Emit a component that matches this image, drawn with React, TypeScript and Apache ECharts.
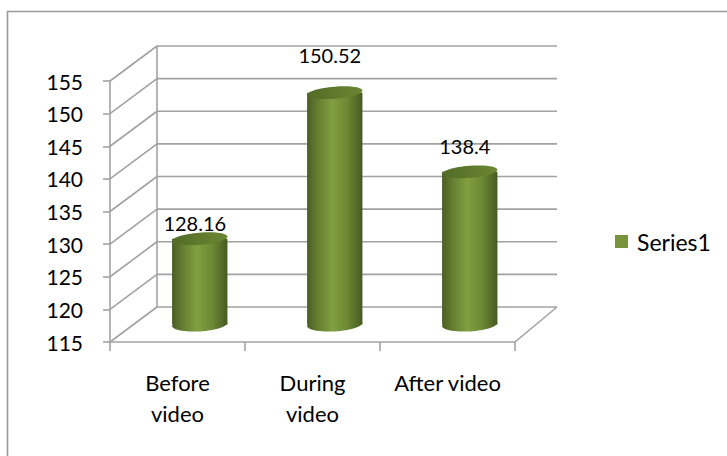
import React, { useEffect, useRef } from "react";
import * as echarts from "echarts";

// Chart data
const categories = ["Before video", "During video", "After video"];
const values = [128.16, 150.52, 138.4];
const seriesName = "Series1";
const yMin = 115;
const yMax = 155;
const yStep = 5;
const yTicks = [115, 120, 125, 130, 135, 140, 145, 150, 155];

// Pseudo-3D depth of the plot box (pixels)
const DEPTH_LEFT_X = 47;
const DEPTH_RIGHT_X = 42;
const DEPTH_Y = 35;

const FONT = "Lato, 'Noto Sans', sans-serif";
const GRID_COLOR = "#a2a2a2";
const TEXT_COLOR = "#000";

export default function App() {
  const ref = useRef<HTMLDivElement>(null);

  useEffect(() => {
    if (!ref.current) return;
    const chart = echarts.init(ref.current, undefined, { renderer: "svg" });

    // Side wall, back wall and floor lines for every value tick
    const wallsRender = (params: any, api: any) => {
      const cs = params.coordSys;
      const v = api.value(1);
      const y = api.coord([0, v])[1];
      const x0 = cs.x;
      const x1 = cs.x + cs.width;
      const bx0 = x0 + DEPTH_LEFT_X;
      const bx1 = x1 + DEPTH_RIGHT_X;
      const by = y - DEPTH_Y;
      const style = { stroke: GRID_COLOR, lineWidth: 1.6, fill: null };
      const children: any[] = [
        { type: "line", shape: { x1: x0, y1: y, x2: bx0, y2: by }, style },
        { type: "line", shape: { x1: bx0, y1: by, x2: bx1, y2: by }, style },
      ];
      if (v === yMin) {
        const yTop = api.coord([0, yMax])[1] - DEPTH_Y;
        children.push(
          { type: "line", shape: { x1: x1, y1: y, x2: bx1, y2: by }, style },
          { type: "line", shape: { x1: bx0, y1: by, x2: bx0, y2: yTop }, style }
        );
      }
      return { type: "group", children };
    };

    // Cylinders standing at mid-depth with their value labels
    const cylinderRender = (params: any, api: any) => {
      const i = api.value(0);
      const v = api.value(1);
      const top = api.coord([i, v]);
      const base = api.coord([i, yMin]);
      const cx = top[0] + (DEPTH_LEFT_X + DEPTH_RIGHT_X) / 4;
      const topY = top[1] - DEPTH_Y / 2;
      const botY = base[1] - DEPTH_Y / 2;
      const rx = api.size([1, 0])[0] * 0.205;
      const ryTop = 6;
      const ryBot = 7;
      const body = new echarts.graphic.LinearGradient(0, 0, 1, 0, [
        { offset: 0, color: "#4b5e24" },
        { offset: 0.18, color: "#637c2f" },
        { offset: 0.45, color: "#80a041" },
        { offset: 0.72, color: "#6c8934" },
        { offset: 1, color: "#475a21" },
      ]);
      const cap = new echarts.graphic.LinearGradient(0, 0, 1, 0, [
        { offset: 0, color: "#536b27" },
        { offset: 1, color: "#6a8733" },
      ]);
      const lift = 3 + 0.15 * (botY - topY);
      return {
        type: "group",
        children: [
          {
            type: "ellipse",
            shape: { cx, cy: botY, rx, ry: ryBot },
            rotation: 0.06,
            originX: cx,
            originY: botY,
            style: { fill: body },
          },
          {
            type: "rect",
            shape: { x: cx - rx, y: topY, width: rx * 2, height: botY - topY },
            style: { fill: body },
          },
          {
            type: "ellipse",
            shape: { cx, cy: topY, rx, ry: ryTop },
            rotation: 0.08,
            originX: cx,
            originY: topY,
            style: { fill: cap },
          },
          {
            type: "text",
            x: cx - 5,
            y: topY - lift,
            style: {
              text: String(v),
              fill: TEXT_COLOR,
              font: `20px ${FONT}`,
              align: "center",
              verticalAlign: "middle",
            },
          },
        ],
      };
    };

    chart.setOption({
      animation: false,
      backgroundColor: "#ffffff",
      grid: { left: 110, top: 81, width: 405, height: 261, containLabel: false },
      legend: {
        left: 610,
        top: 225,
        itemWidth: 13,
        itemHeight: 13,
        data: [{ name: seriesName, icon: "rect", itemStyle: { color: "#77933c" } }],
        textStyle: { fontFamily: FONT, fontSize: 23, color: TEXT_COLOR, padding: [0, 0, 0, 4] },
      },
      xAxis: {
        type: "category",
        data: categories,
        boundaryGap: true,
        axisLine: { show: true, lineStyle: { color: GRID_COLOR, width: 1.6 } },
        axisTick: { show: true, length: 9, alignWithLabel: false, lineStyle: { color: GRID_COLOR, width: 1.6 } },
        axisLabel: {
          interval: 0,
          hideOverlap: false,
          margin: 25,
          fontFamily: FONT,
          fontSize: 22,
          lineHeight: 31,
          color: TEXT_COLOR,
          formatter: (s: string) => (s.length > 11 ? s.replace(" ", "\n") : s),
        },
        splitLine: { show: false },
      },
      yAxis: {
        type: "value",
        min: yMin,
        max: yMax,
        interval: yStep,
        axisLine: { show: true, lineStyle: { color: GRID_COLOR, width: 1.6 } },
        axisTick: { show: true, length: 7, lineStyle: { color: GRID_COLOR, width: 1.6 } },
        axisLabel: { margin: 27, fontFamily: FONT, fontSize: 21, color: TEXT_COLOR },
        splitLine: { show: false },
      },
      graphic: [
        {
          type: "rect",
          shape: { x: 7.5, y: 11.5, width: 800, height: 520 },
          style: { fill: "none", stroke: "#9a9a9a", lineWidth: 1.6 },
          silent: true,
        },
      ],
      series: [
        {
          type: "custom",
          name: "walls",
          silent: true,
          clip: false,
          z: 1,
          renderItem: wallsRender,
          data: yTicks.map((t) => [0, t]),
        },
        {
          type: "custom",
          name: seriesName,
          clip: false,
          z: 3,
          itemStyle: { color: "#77933c" },
          renderItem: cylinderRender,
          data: values.map((v, i) => [i, v]),
        },
      ],
    });

    return () => chart.dispose();
  }, []);

  return (
    <div
      ref={ref}
      style={{ position: "fixed", left: 0, top: 0, width: 727, height: 456, background: "#fff" }}
    />
  );
}
